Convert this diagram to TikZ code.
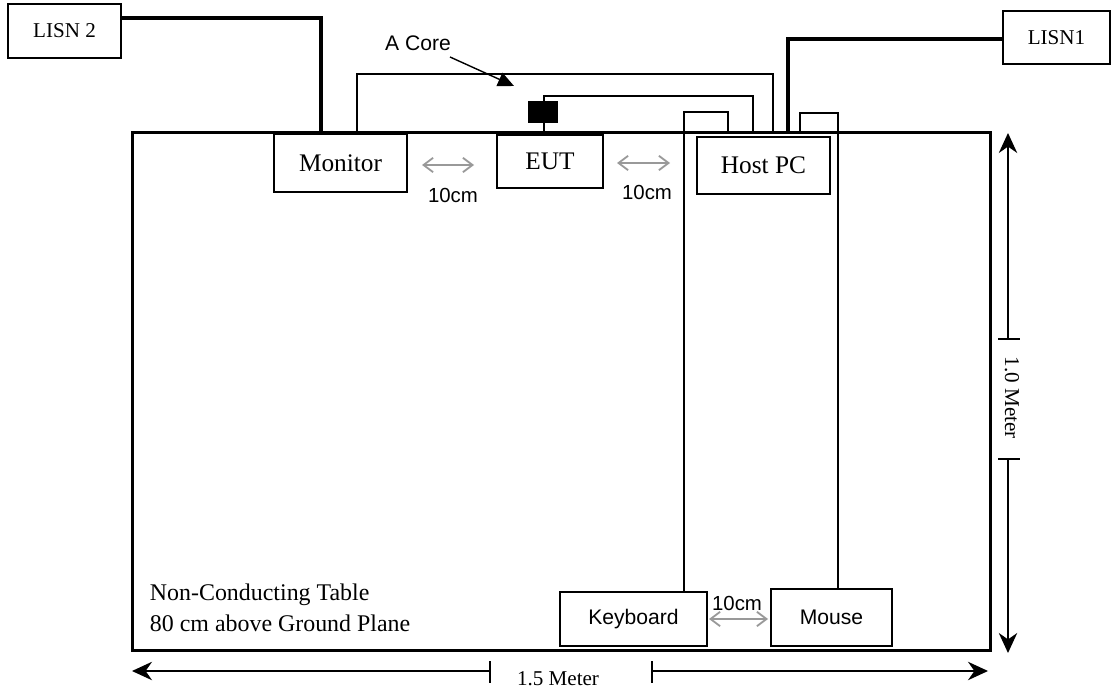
\documentclass[tikz,border=0pt]{standalone}
\usepackage{fontspec}
\setmainfont{Liberation Serif}
\setsansfont{Liberation Sans}
\usepackage{tikz}
\usetikzlibrary{arrows.meta,calc}

\tikzset{
    devbox/.style={draw, fill=white, line width=1pt, inner sep=0pt, font=\fontsize{18}{20}\selectfont},
    lisnbox/.style={draw, fill=white, line width=1pt, inner sep=0pt, font=\fontsize{15}{17}\selectfont},
    periph/.style={draw, fill=white, line width=1pt, inner sep=0pt, font=\sffamily\fontsize{15}{17}\selectfont},
    cable/.style={line width=1pt},
    mains/.style={line width=2.6pt},
    gap/.style={black!40, line width=1.3pt, {Straight Barb[length=2.4mm,width=3.6mm]}-{Straight Barb[length=2.4mm,width=3.6mm]}},
    gaplabel/.style={font=\sffamily\fontsize{14.5}{16}\selectfont},
    dim/.style={line width=1pt},
    dimtip/.style={-{Stealth[length=5mm,width=4.6mm,inset=1.6mm]}}
}

\begin{document}
\begin{tikzpicture}[x=0.025cm, y=-0.025cm]
    \useasboundingbox (0,0) rectangle (1111,694);
    % table
    \node[draw, line width=2.2pt, minimum width=21.425cm, minimum height=12.925cm, inner sep=0pt] (tbl) at (561.5,391.5) {};
    \node[anchor=west, align=left, font=\fontsize{17}{22}\selectfont] (tbltext) at (145,608) {Non-Conducting Table\\80 cm above Ground Plane};
    % cable end points on the table edge
    \coordinate (lisn2end) at (321,133);
    \coordinate (lisn1end) at (788,133);
    \coordinate (coreA) at (357,133);
    \coordinate (coreB) at (773,133);
    \coordinate (eutB) at (753,133);
    \coordinate (kbdB) at (728,133);
    \coordinate (mseB) at (800,133);
    % devices
    \node[lisnbox, minimum width=2.825cm, minimum height=1.35cm] (lisn2) at (64.5,31) {LISN 2};
    \node[lisnbox, minimum width=2.675cm, minimum height=1.325cm] (lisn1) at (1056.5,37.5) {LISN1};
    \node[devbox, minimum width=3.325cm, minimum height=1.45cm] (mon) at (340.5,163) {Monitor};
    \node[devbox, minimum width=2.65cm, minimum height=1.325cm] (eut) at (550,161.5) {EUT};
    \node[devbox, minimum width=3.325cm, minimum height=1.425cm] (host) at (763.5,165.5) {Host PC};
    \node[periph, minimum width=3.675cm, minimum height=1.35cm] (kbd) at (633.5,619) {Keyboard};
    \node[periph, minimum width=3.025cm, minimum height=1.425cm] (mse) at (831.5,617.5) {Mouse};
    % power cables
    \draw[mains] (lisn2.east |- 0,18) -| (lisn2end);
    \draw[mains] (lisn1.west |- 0,39) -| (lisn1end);
    % signal cables
    \draw[cable] (coreA) |- (773,74) -- (coreB);
    \draw[cable] (eut.north -| 544,0) |- (753,96) -- (eutB);
    \draw[cable] (kbd.north -| 684,0) |- (728,112) -- (kbdB);
    \draw[cable] (mse.north -| 838,0) |- (800,113) -- (mseB);
    \node[fill=black, minimum width=0.75cm, minimum height=0.55cm, inner sep=0pt] (core) at (543,112) {};
    % A Core label
    \node[font=\sffamily\fontsize{15}{17}\selectfont] (corelabel) at (418,43) {A Core};
    \coordinate (coretip) at (514,86);
    \draw[line width=1pt, -{Triangle[length=4mm,width=3.6mm]}] (450,57) -- (coretip);
    % 10cm spacings
    \draw[gap] (422,165) -- (474,165);
    \node[gaplabel] (gap1) at (453,195) {10cm};
    \draw[gap] (617,163) -- (670,163);
    \node[gaplabel] (gap2) at (647,192) {10cm};
    \draw[gap] (709,619) -- (768,619);
    \node[gaplabel] (gap3) at (737,603) {10cm};
    % 1.0 Meter
    \node[rotate=-90, font=\fontsize{15}{17}\selectfont] (depth) at (1012,398) {1.0 Meter};
    \draw[dim, dimtip] (1008,339) -- (1008,133);
    \draw[dim, dimtip] (1008,459) -- (1008,653);
    \draw[dim] (998,339) -- (1020,339);
    \draw[dim] (998,459) -- (1020,459);
    % 1.5 Meter
    \node[font=\fontsize{15}{17}\selectfont] (width) at (558,679) {1.5 Meter};
    \draw[dim, dimtip] (490,671) -- (132,671);
    \draw[dim, dimtip] (652,671) -- (988,671);
    \draw[dim] (490,661) -- (490,683);
    \draw[dim] (652,661) -- (652,683);
\end{tikzpicture}
\end{document}
